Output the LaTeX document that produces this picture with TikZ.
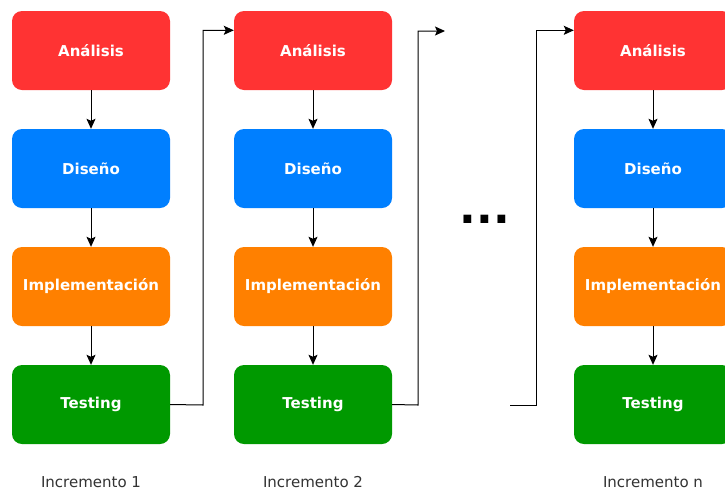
\documentclass[tikz,border=0pt]{standalone}
\usepackage{fontspec}
\setmainfont{DejaVu Sans}
\usetikzlibrary{arrows.meta}
\definecolor{cRed}{HTML}{FF3333}
\definecolor{cBlue}{HTML}{007FFF}
\definecolor{cOrange}{HTML}{FF8000}
\definecolor{cGreen}{HTML}{009900}
\definecolor{cLabel}{HTML}{333333}
\tikzset{
  phase/.style={rounded corners=10pt, minimum width=158pt, minimum height=79pt,
    inner sep=0pt, text=white, font=\fontsize{15}{18}\selectfont\bfseries},
  flow/.style={line width=1pt, -{Stealth[length=10pt,width=9pt,inset=2pt]}},
  link/.style={line width=1pt},
  caption/.style={text=cLabel, anchor=base, inner sep=0pt, text depth=0pt,
    font=\fontsize{15}{18}\selectfont}
}
\begin{document}
\begin{tikzpicture}[x=1pt,y=-1pt]
\useasboundingbox (0,0) rectangle (725,491);
\clip (0,0) rectangle (725,491);
\fill[white] (0,0) rectangle (725,491);

% three increments, each a column of four phases
\foreach \c/\x/\lab in {a/91/1, b/313/2, n/653/n}{
  \node[phase, fill=cRed]    (an\c) at (\x,50.5)  {Análisis};
  \node[phase, fill=cBlue]   (di\c) at (\x,168.5) {Diseño};
  \node[phase, fill=cOrange] (im\c) at (\x,286.5) {Implementación};
  \node[phase, fill=cGreen]  (te\c) at (\x,404.5) {Testing};
  \node[caption] (inc\c) at (\x,487) {Incremento \lab};
  \draw[flow] (an\c) -- (di\c);
  \draw[flow] (di\c) -- (im\c);
  \draw[flow] (im\c) -- (te\c);
}

% hand-over from one increment to the next
\coordinate (outb) at (445,31);
\coordinate (inn) at (510,405);
\draw[link,flow] (tea.east) -- (203,405) |- ([yshift=-19.5pt]anb.north west);
\draw[link,flow] (teb.east) -- (418,405) |- (outb);
\draw[link,flow] (inn) -- (536,405) |- ([yshift=-19.5pt]ann.north west);

% ellipsis between increment 2 and increment n
\node[anchor=base, inner sep=0pt, font=\fontsize{44}{48}\selectfont\bfseries] (dots) at (485,223) {...};
\end{tikzpicture}
\end{document}
